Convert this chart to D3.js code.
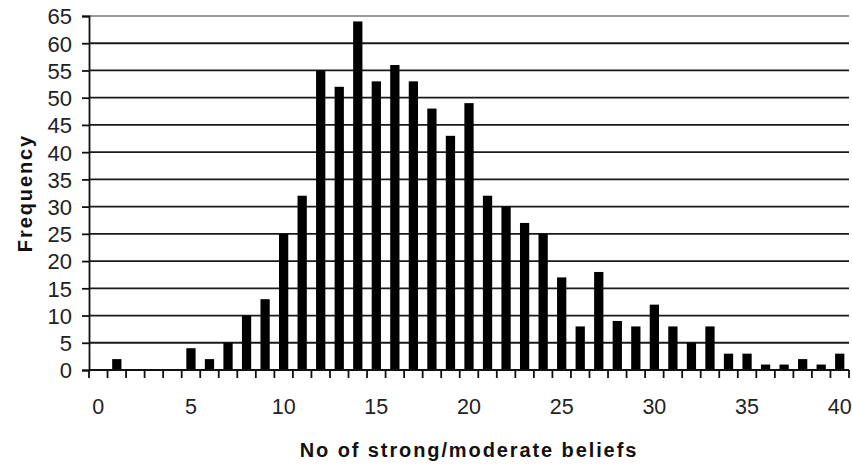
<!DOCTYPE html>
<html>
<head>
<meta charset="utf-8">
<script src="https://cdn.jsdelivr.net/npm/d3@7"></script>
<style>
  body { margin: 0; background: #fff; }
  svg { display: block; font-family: "Liberation Sans", Arial, sans-serif; }
</style>
</head>
<body>
<svg id="chart"></svg>
<script>
// number of strong/moderate beliefs (0..40) and how many respondents had that count
const beliefCounts = d3.range(0, 41);
const frequencies = [
    0, 2, 0, 0, 0, 4, 2, 5, 10, 13,
    25, 32, 55, 52, 64, 53, 56, 53, 48, 43,
    49, 32, 30, 27, 25, 17, 8, 18, 9, 8,
    12, 8, 5, 8, 3, 3, 1, 1, 2, 1,
    3
];
const xTickLabels = [0, 5, 10, 15, 20, 25, 30, 35, 40];
const yTickLabels = d3.range(0, 66, 5);

const width = 852, height = 465;
const margin = { top: 16, right: 3, bottom: 95, left: 89 };

let svg = d3.select("#chart")
        .attr("width", width)
        .attr("height", height);

let x = d3.scaleBand()
    .domain(beliefCounts)
    .range([margin.left, width - margin.right])
    .paddingInner(0.5)
    .paddingOuter(0.25);

let y = d3.scaleLinear()
    .domain([0, 65])
    .range([height - margin.bottom, margin.top]);

// horizontal gridlines (top one lighter, as in the original)
svg.append("g")
    .selectAll("line")
    .data(yTickLabels.filter(d => d > 0))
    .enter()
    .append("line")
        .attr("x1", margin.left)
        .attr("x2", width - margin.right)
        .attr("y1", d => y(d))
        .attr("y2", d => y(d))
        .attr("stroke", d => d === 65 ? "#9a9a9a" : "#1a1a1a")
        .attr("stroke-width", 1.8);

// bars
svg.append("g")
    .selectAll("rect")
    .data(beliefCounts.filter((d, i) => frequencies[i] > 0))
    .enter()
    .append("rect")
        .attr("x", d => x(d))
        .attr("width", x.bandwidth())
        .attr("y", d => y(frequencies[d]))
        .attr("height", d => y(0) - y(frequencies[d]))
        .attr("fill", "#000");

// y axis
let yAxis = svg.append("g")
    .attr("transform", `translate(${margin.left},0)`)
    .call(d3.axisLeft(y).tickValues(yTickLabels).tickSize(7).tickPadding(10));
yAxis.select(".domain").attr("stroke", "#111").attr("stroke-width", 1.8);
yAxis.selectAll(".tick line").attr("stroke", "#111").attr("stroke-width", 1.8);
yAxis.selectAll(".tick text")
    .attr("font-size", "22px")
    .attr("fill", "#222")
    .attr("dy", "0.36em");

// x axis: labels centred on categories, tick marks on category boundaries
let xAxis = svg.append("g")
    .attr("transform", `translate(0,${y(0)})`)
    .call(d3.axisBottom(x).tickValues(xTickLabels).tickSize(0).tickPadding(29));
xAxis.select(".domain").remove();
xAxis.selectAll(".tick text")
    .attr("font-size", "21.5px")
    .attr("fill", "#222");

let step = x.step();
let boundaries = d3.range(0, beliefCounts.length + 1);
xAxis.append("line")
    .attr("x1", margin.left)
    .attr("x2", width - margin.right)
    .attr("stroke", "#111")
    .attr("stroke-width", 1.8);
xAxis.selectAll(".boundary")
    .data(boundaries)
    .enter()
    .append("line")
        .classed("boundary", true)
        .attr("x1", i => x.range()[0] + i * step)
        .attr("x2", i => x.range()[0] + i * step)
        .attr("y1", 0)
        .attr("y2", 8)
        .attr("stroke", "#111")
        .attr("stroke-width", 1.8);

// axis titles
svg.append("text")
    .attr("x", (margin.left + width - margin.right) / 2)
    .attr("y", 457)
    .attr("text-anchor", "middle")
    .attr("font-size", "20px")
    .attr("font-weight", "bold")
    .attr("letter-spacing", "1.9px")
    .attr("fill", "#111")
    .text("No of strong/moderate beliefs");

svg.append("text")
    .attr("transform", `translate(32,${(y(0) + y(65)) / 2}) rotate(-90)`)
    .attr("text-anchor", "middle")
    .attr("font-size", "20px")
    .attr("font-weight", "bold")
    .attr("letter-spacing", "1.9px")
    .attr("fill", "#111")
    .text("Frequency");
</script>
</body>
</html>
